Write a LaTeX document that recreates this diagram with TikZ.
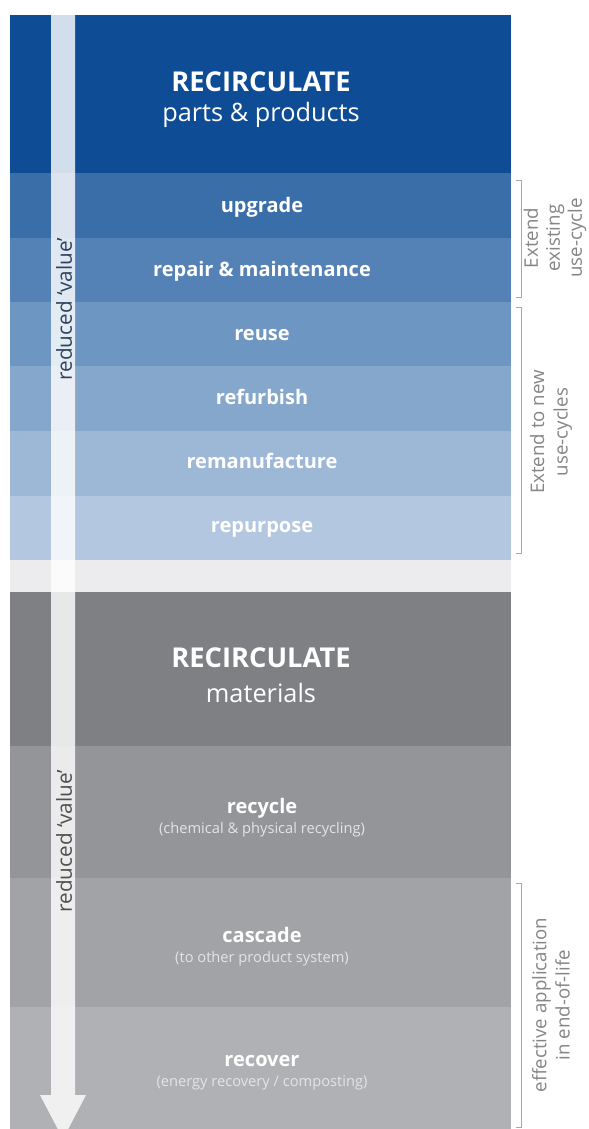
\documentclass[tikz,border=0pt]{standalone}
\usepackage{fontspec}
\setmainfont{Open Sans}
\definecolor{bA}{HTML}{0E4C96}
\definecolor{bB}{HTML}{3A6EA8}
\definecolor{bC}{HTML}{5582B6}
\definecolor{bD}{HTML}{6E96C2}
\definecolor{bE}{HTML}{86A7CC}
\definecolor{bF}{HTML}{9DB8D6}
\definecolor{bG}{HTML}{B3C8E0}
\definecolor{gap}{HTML}{ECECEE}
\definecolor{gA}{HTML}{7E8084}
\definecolor{gB}{HTML}{939598}
\definecolor{gC}{HTML}{A2A3A6}
\definecolor{gD}{HTML}{B0B1B4}
\definecolor{valblue}{HTML}{2F4260}
\definecolor{valgray}{HTML}{505052}
\definecolor{sidegray}{HTML}{858587}
\definecolor{brkgray}{HTML}{A8A8AA}
\definecolor{subwhite}{HTML}{E4E4E6}
\begin{document}
\begin{tikzpicture}[x=0.75pt,y=-0.75pt,
  lbl/.style={text=white,font=\bfseries\fontsize{15}{18}\selectfont,anchor=base,inner sep=0pt},
  sublbl/.style={text=subwhite,font=\fontsize{11}{13}\selectfont,anchor=base,inner sep=0pt},
  headlbl/.style={text=white,font=\bfseries\fontsize{20.5}{24}\selectfont,anchor=base,inner sep=0pt},
  headsub/.style={text=white,font=\fontsize{19}{22}\selectfont,anchor=base,inner sep=0pt},
  side/.style={text=sidegray,font=\fontsize{14}{17.5}\selectfont,rotate=90,align=center,inner sep=0pt},
  brk/.style={draw=brkgray,line width=0.7pt},
  valtxt/.style={font=\fontsize{15.5}{18}\selectfont,rotate=90,inner sep=0pt}
]
\useasboundingbox (0,0) rectangle (589,1129);
\fill[white] (0,0) rectangle (589,1129);
% bands
\fill[bA] (10,15) rectangle (511,173);
\fill[bB] (10,173) rectangle (511,238);
\fill[bC] (10,238) rectangle (511,302);
\fill[bD] (10,302) rectangle (511,366);
\fill[bE] (10,366) rectangle (511,431);
\fill[bF] (10,431) rectangle (511,496);
\fill[bG] (10,496) rectangle (511,560);
\fill[gap] (10,560) rectangle (511,592);
\fill[gA] (10,592) rectangle (511,746);
\fill[gB] (10,746) rectangle (511,878);
\fill[gC] (10,878) rectangle (511,1007);
\fill[gD] (10,1007) rectangle (511,1129);
% arrow
\fill[white,opacity=0.82] (51,15) -- (75,15) -- (75,1095) -- (86,1095) -- (63,1139) -- (40,1095) -- (51,1095) -- cycle;
% texts
\node[headlbl] (t1) at (261,91) {RECIRCULATE};
\node[headsub] (t1b) at (261,121) {parts \& products};
\node[lbl] (up) at (262,212) {upgrade};
\node[lbl] (rep) at (262,276) {repair \& maintenance};
\node[lbl] (reu) at (262,340) {reuse};
\node[lbl] (ref) at (262,404) {refurbish};
\node[lbl] (rem) at (262,468) {remanufacture};
\node[lbl] (rpp) at (262,532) {repurpose};
\node[headlbl] (t2) at (261,667) {RECIRCULATE};
\node[headsub] (t2b) at (261,702) {materials};
\node[lbl] (rec) at (262,813) {recycle};
\node[sublbl] (recs) at (262,833) {(chemical \& physical recycling)};
\node[lbl] (cas) at (262,942) {cascade};
\node[sublbl] (cass) at (262,962) {(to other product system)};
\node[lbl] (rcv) at (262,1066) {recover};
\node[sublbl] (rcvs) at (262,1086) {(energy recovery / composting)};
% reduced value
\node[valtxt,text=valblue] (v1) at (64,309) {reduced ‘value’};
\node[valtxt,text=valgray] (v2) at (64,841) {reduced ‘value’};
% brackets
\draw[brk] (516,180) -- (521,180) -- (521,297) -- (516,297);
\draw[brk] (516,307) -- (521,307) -- (521,553) -- (516,553);
\draw[brk] (516,883) -- (521,883) -- (521,1127) -- (516,1127);
% side labels
\node[side,font=\fontsize{14}{16.5}\selectfont] (s1) at (555,238) {Extend\\existing\\use-cycle};
\node[side] (s2) at (551,432) {Extend to new\\use-cycles};
\node[side] (s3) at (551,1005) {effective application\\in end-of-life};
\end{tikzpicture}
\end{document}
